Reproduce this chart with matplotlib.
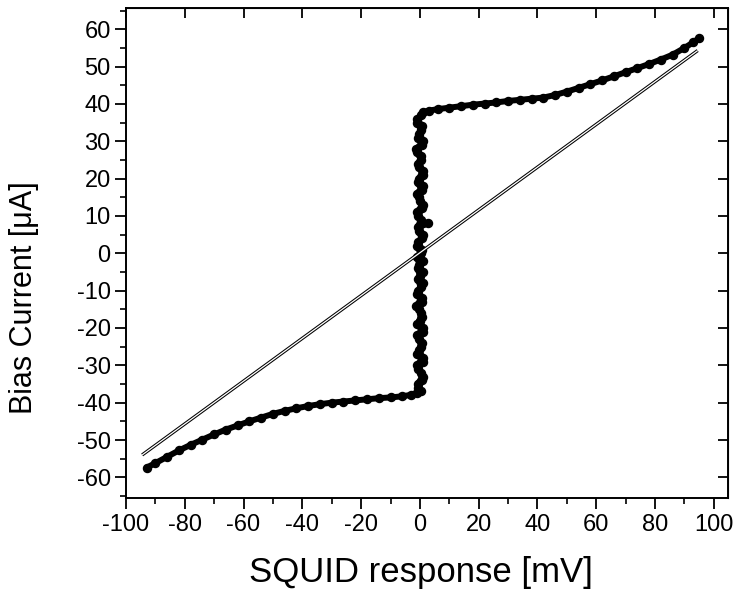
import matplotlib
matplotlib.use("Agg")
import matplotlib.pyplot as plt
from matplotlib.ticker import MultipleLocator

plt.rcParams['font.family'] = ['Liberation Sans', 'DejaVu Sans']
plt.rcParams['axes.unicode_minus'] = False

# lower branch (negative side)
low_x = [-93, -90, -86, -82, -78, -74, -70, -66, -62, -58, -54, -50, -46, -42, -38,
         -34, -30, -26, -22, -18, -14, -10, -6, -3, -1]
low_y = [-57.4, -56.2, -54.5, -52.8, -51.3, -49.9, -48.5, -47.2, -46.1, -45.0, -44.0,
         -43.0, -42.2, -41.5, -40.9, -40.4, -40.0, -39.7, -39.4, -39.1, -38.8, -38.6,
         -38.3, -37.9, -37.3]

# near-vertical part at 0 mV, upward sweep
vert_x = [0.3, -0.8, 0.9, -0.5, 1.1, -1.0, 0.4, -0.3, 1.0, -0.9, 0.6, -0.4, 0.8, -1.1,
          0.2, -0.6, 1.0, -0.2, -0.9, 0.7, -0.5, 1.1, -0.7, 0.3, -1.0, 0.9, -0.4, 0.6,
          -0.8, 1.0, -0.3, 0.5, -1.0, 0.8, -0.6, 0.4, -0.9, 0.2]
vert_y = [-37, -35, -33, -31, -29, -27, -25, -23, -21, -19, -17, -15, -13, -11, -9, -7,
          -5, -3, -1, 1, 3, 5, 7, 9, 11, 13, 15, 17, 19, 21, 23, 25, 27, 29, 31, 33, 35, 37]

# near-vertical part, downward sweep
back_x = [-0.9, 0.7, -0.2, 1.2, -1.2, 0.5, -0.6, 0.9, -0.3, 1.1, -1.0, 0.1, 0.8, -0.7,
          1.2, -0.4, 0.6, -1.1, 0.3, 0.9, -0.8, 0.0, 1.0, -0.5, 0.7, -1.2, 0.4, -0.1,
          1.1, -0.9, 0.6, -0.3, 1.0, -1.0, 0.2, 0.8, -0.6]
back_y = [36, 34, 32, 30, 28, 26, 24, 22, 20, 18, 16, 14, 12, 10, 8, 6, 4, 2, 0, -2,
          -4, -6, -8, -10, -12, -14, -16, -18, -20, -22, -24, -26, -28, -30, -32, -34, -36]

# upper branch (positive side)
up_x = [1, 3, 6, 10, 14, 18, 22, 26, 30, 34, 38, 42, 46, 50, 54, 58, 62, 66, 70, 74,
        78, 82, 86, 90, 93, 95]
up_y = [37.8, 38.2, 38.6, 39.0, 39.4, 39.8, 40.1, 40.4, 40.8, 41.1, 41.4, 41.7, 42.4,
        43.3, 44.3, 45.3, 46.3, 47.4, 48.5, 49.6, 50.7, 51.9, 53.2, 55.0, 56.5, 57.6]

# straight reference line
line_x = [-94.5, 94.5]
line_y = [-54.0, 54.3]

# stray point
stray_x = [2.6]
stray_y = [8.1]

fig = plt.figure(figsize=(7.38, 5.96), dpi=100)
ax = fig.add_axes([0.1707, 0.164, 0.8157, 0.822])

curve_x = low_x + vert_x + up_x
curve_y = low_y + vert_y + up_y
ax.plot(curve_x, curve_y, color="black", lw=4.3, marker="o", ms=5.8,
        solid_capstyle="round", solid_joinstyle="round", zorder=3)
ax.plot(back_x, back_y, color="black", lw=4.3, marker="o", ms=5.8,
        solid_capstyle="round", solid_joinstyle="round", zorder=3)
ax.plot(stray_x, stray_y, "o", color="black", ms=5.8, zorder=3)

ax.plot(line_x, line_y, color="black", lw=2.4, solid_capstyle="butt", zorder=4)
ax.plot(line_x, line_y, color="white", lw=0.9, solid_capstyle="butt", zorder=5)

ax.set_xlim(-100, 104.8)
ax.set_ylim(-65.6, 65.6)

ax.xaxis.set_major_locator(MultipleLocator(20))
ax.xaxis.set_minor_locator(MultipleLocator(10))
ax.yaxis.set_major_locator(MultipleLocator(10))
ax.yaxis.set_minor_locator(MultipleLocator(5))

ax.tick_params(which="major", direction="out", length=8, width=1.3, labelsize=17,
               colors="black", pad=3)
ax.tick_params(which="minor", direction="out", length=4, width=1.2)

for s in ax.spines.values():
    s.set_linewidth(1.4)

top = ax.secondary_xaxis("top")
top.xaxis.set_major_locator(MultipleLocator(20))
top.tick_params(direction="in", length=7, width=1.3, labeltop=False)
right = ax.secondary_yaxis("right")
right.yaxis.set_major_locator(MultipleLocator(10))
right.tick_params(direction="in", length=7, width=1.3, labelright=False)

ax.set_xlabel("SQUID response [mV]", fontsize=25)
ax.set_ylabel("Bias Current [\u03bcA]", fontsize=22)
ax.xaxis.set_label_coords(0.49, -0.118)
ax.yaxis.set_label_coords(-0.145, 0.41)

fig.savefig("out.png", dpi=100)
